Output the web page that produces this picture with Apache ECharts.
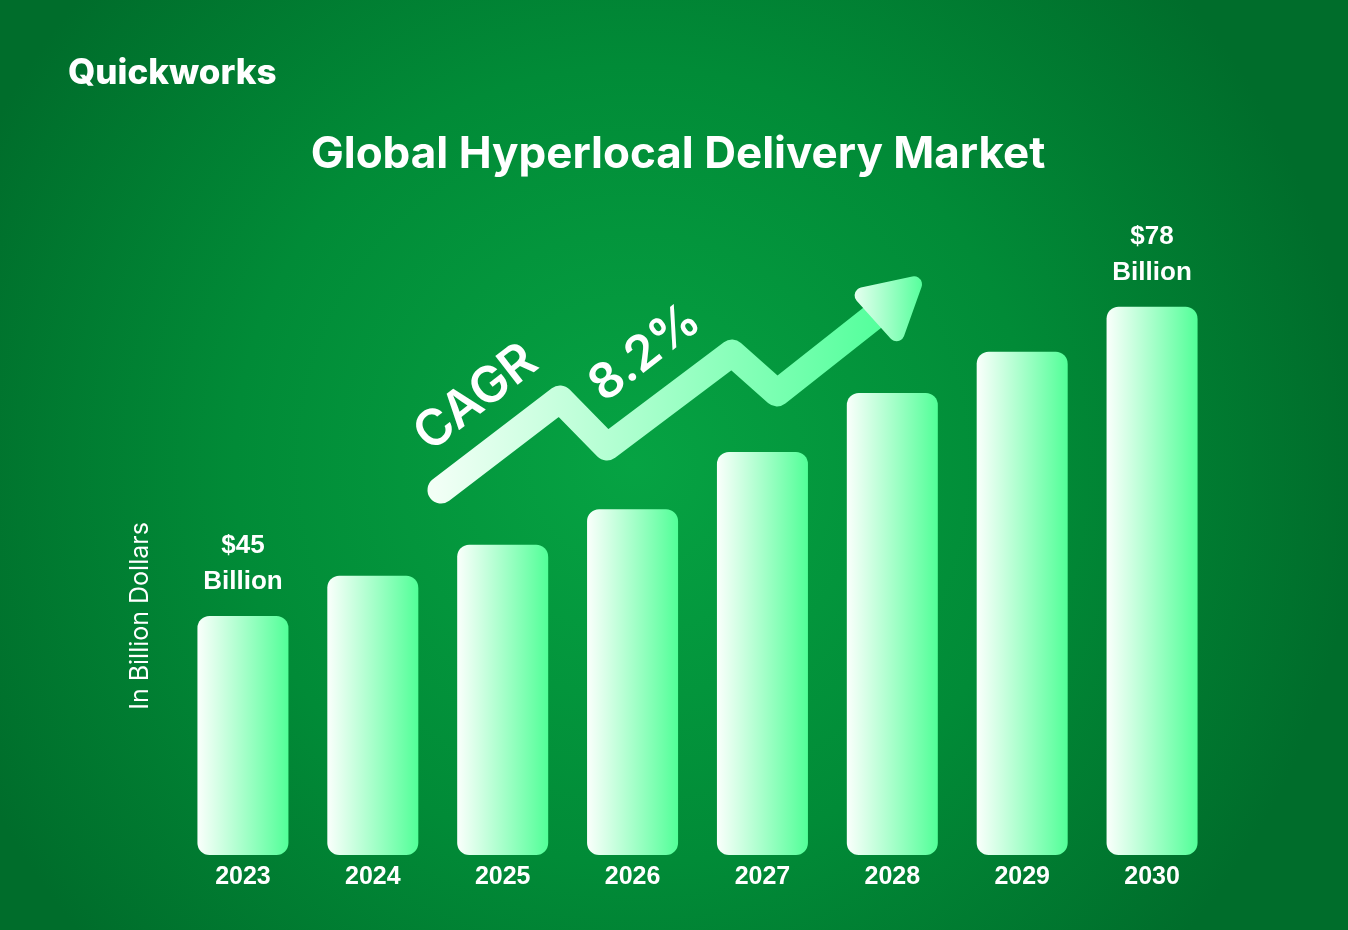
<!DOCTYPE html>
<html>
<head>
<meta charset="utf-8">
<script src="https://cdn.jsdelivr.net/npm/echarts@6/dist/echarts.min.js"></script>
<style>
html,body{margin:0;padding:0;background:#007a33;}
#chart{width:1348px;height:930px;}
</style>
</head>
<body>
<div id="chart"></div>
<script>
// ---- data ----
const years = ['2023', '2024', '2025', '2026', '2027', '2028', '2029', '2030'];
const marketValues = [45, 49.3, 52.6, 56.4, 62.5, 68.8, 73.2, 78];
const valueLabels = ['$45\nBillion', '', '', '', '', '', '', '$78\nBillion'];
const titleText = 'Global Hyperlocal Delivery Market';
const brandText = 'Quickworks';
const axisNameText = 'In Billion Dollars';
const cagrWord = 'CAGR';
const cagrValue = '8.2%';

const chart = echarts.init(document.getElementById('chart'), null, {renderer: 'canvas'});

const barGradient = new echarts.graphic.LinearGradient(0, 0, 1, 0, [
  {offset: 0, color: '#fbfffc'},
  {offset: 1, color: '#52ff98'}
]);

const seriesData = marketValues.map((v, i) => ({
  value: v,
  label: {show: valueLabels[i] !== ''}
}));

const lineGradient = new echarts.graphic.LinearGradient(435, 0, 900, 0, [
  {offset: 0, color: '#f2fff6'},
  {offset: 1, color: '#4dff98'}
], true);

const headGradient = new echarts.graphic.LinearGradient(0, 0, 1, 0, [
  {offset: 0, color: '#e6fff0'},
  {offset: 1, color: '#56ff9c'}
]);

const option = {
  backgroundColor: 'transparent',
  animation: false,
  grid: {left: 178, right: 131, top: 288, bottom: 75, containLabel: false},
  xAxis: {
    type: 'category',
    data: years,
    axisLine: {show: false},
    axisTick: {show: false},
    axisLabel: {
      color: '#ffffff',
      fontFamily: 'Liberation Sans',
      fontWeight: 'bold',
      fontSize: 25,
      margin: 10
    }
  },
  yAxis: {
    type: 'value',
    min: 19.5,
    max: 80,
    show: false,
    splitLine: {show: false}
  },
  series: [{
    type: 'bar',
    data: seriesData,
    barWidth: 91,
    itemStyle: {color: barGradient, borderRadius: 12},
    label: {
      position: 'top',
      distance: 16,
      color: '#ffffff',
      fontFamily: 'Liberation Sans',
      fontWeight: 'bold',
      fontSize: 26,
      lineHeight: 36,
      align: 'center',
      formatter: (p) => valueLabels[p.dataIndex]
    },
    z: 3
  }],
  graphic: [
    {
      type: 'rect', z: -10, silent: true,
      shape: {x: 0, y: 0, width: 1348, height: 930},
      style: {
        fill: new echarts.graphic.RadialGradient(0.47, 0.5, 0.78, [
          {offset: 0, color: '#06a343'},
          {offset: 0.55, color: '#018b37'},
          {offset: 1, color: '#006d2b'}
        ])
      }
    },
    {
      type: 'text', left: 68, top: 56, z: 5,
      style: {text: brandText, fill: '#ffffff', font: '800 35px Inter'}
    },
    {
      type: 'text', x: 678, y: 155, z: 5,
      style: {text: titleText, fill: '#ffffff', font: 'bold 44px Inter', align: 'center', verticalAlign: 'middle'}
    },
    {
      type: 'text', x: 140, y: 616, rotation: Math.PI / 2, z: 5,
      style: {text: axisNameText, fill: '#ffffff', font: '25px Inter', align: 'center', verticalAlign: 'middle'}
    },
    {
      type: 'polyline', z: 4,
      shape: {points: [[441, 490], [560, 399], [607, 447], [732, 353], [777, 393], [872, 318]]},
      style: {stroke: lineGradient, lineWidth: 27, lineCap: 'round', lineJoin: 'round', fill: null}
    },
    {
      type: 'polygon', z: 4,
      shape: {points: [[862.6, 295.4], [914, 284.3], [896.5, 333.2]]},
      style: {fill: headGradient, stroke: headGradient, lineWidth: 16, lineJoin: 'round'}
    },
    {
      type: 'text', x: 476, y: 398, rotation: 0.66, z: 5,
      style: {text: cagrWord, fill: '#ffffff', font: '600 50px Inter', align: 'center', verticalAlign: 'middle'}
    },
    {
      type: 'text', x: 645, y: 353, rotation: 0.66, z: 5,
      style: {text: cagrValue, fill: '#ffffff', font: '600 49px Inter', align: 'center', verticalAlign: 'middle'}
    }
  ]
};

chart.setOption(option);
</script>
</body>
</html>
